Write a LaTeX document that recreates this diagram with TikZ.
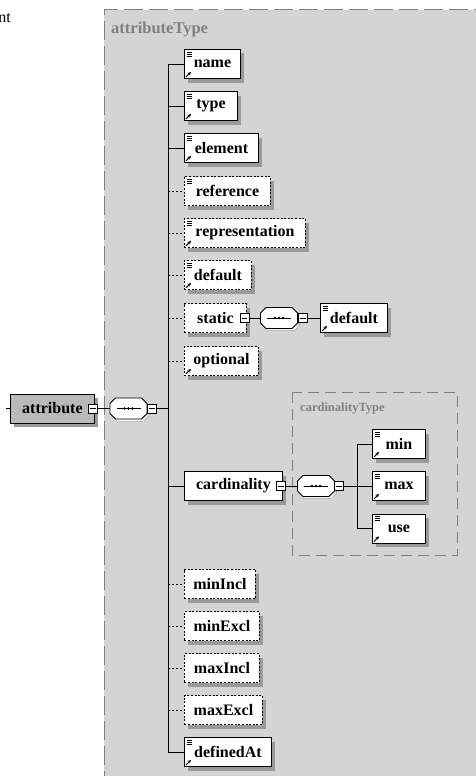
\documentclass[tikz,border=0pt]{standalone}
\usepackage{fontspec}
\setmainfont{Liberation Serif}
\usetikzlibrary{shadows,arrows.meta}

\definecolor{panel}{HTML}{D4D4D4}
\definecolor{frame}{HTML}{808080}
\definecolor{shade}{HTML}{9A9A9A}
\definecolor{rootfill}{HTML}{B9B9B9}

\tikzset{
  elem/.style={draw=black, fill=white, line width=0.9pt, minimum height=29pt,
    inner sep=0pt, anchor=west, font=\fontsize{16}{16}\selectfont\bfseries,
    drop shadow={shadow xshift=4pt, shadow yshift=-4pt, fill=shade, opacity=1}},
  optelem/.style={elem, dash pattern=on 2pt off 1.6pt},
  minus/.style={draw=black, fill=white, line width=0.7pt, minimum size=9pt, inner sep=0pt,
    path picture={\draw[line width=0.7pt] ([xshift=1.8pt]path picture bounding box.west)
      -- ([xshift=-1.8pt]path picture bounding box.east);}},
  seqbox/.style={rectangle, draw=none, minimum width=37pt, minimum height=21pt, inner sep=0pt},
  link/.style={line width=0.9pt},
  optlink/.style={line width=0.9pt, dash pattern=on 2pt off 2pt},
  typebox/.style={draw=frame, line width=1pt, dash pattern=on 19pt off 6pt},
  typelabel/.style={text=frame, anchor=west, inner sep=0pt, font=\fontsize{16.5}{16.5}\selectfont\bfseries},
}

% small "documentation" and "reference" marks in the corners of element boxes
\newcommand\xsdlines[1]{%
  \foreach \k in {0,2,4}
    {\draw[line width=0.7pt] ([shift={(2.5,3+\k)}]#1.north west) -- ++(5,0);}}
\newcommand\xsdarrow[1]{%
  \draw[line width=1pt,-{Stealth[length=3.5pt,width=3.5pt]}]
    ([shift={(2,-2)}]#1.south west) -- ++(5,-5);}
% octagon outline of a sequence compositor, around a named seqbox node
\newcommand\octpath[3]{%
  ([shift={(#2-18.5,#3-5)}]#1.center) -- ([shift={(#2-13,#3-10.5)}]#1.center)
  -- ([shift={(#2+13,#3-10.5)}]#1.center) -- ([shift={(#2+18.5,#3-5)}]#1.center)
  -- ([shift={(#2+18.5,#3+5)}]#1.center) -- ([shift={(#2+13,#3+10.5)}]#1.center)
  -- ([shift={(#2-13,#3+10.5)}]#1.center) -- ([shift={(#2-18.5,#3+5)}]#1.center) -- cycle}
\newcommand\seqmark[1]{%
  \fill[shade] \octpath{#1}{2}{2};
  \draw[line width=0.8pt, fill=white] \octpath{#1}{0}{0};
  \draw[line width=0.8pt] ([xshift=-12pt]#1.center) -- ([xshift=12pt]#1.center);
  \foreach \d in {-4,0,4} {\fill ([xshift=\d pt]#1.center) circle (1.4pt);}}

\begin{document}
\begin{tikzpicture}[x=1pt,y=-1pt]
\useasboundingbox (0,0) rectangle (475,776);
\fill[white] (0,0) rectangle (475,776);

% complex type panel
\fill[panel] (104,10) rectangle (490,790);
\draw[typebox] (104,790) -- (104,10) -- (490,10);
\node[typelabel] (attrtype) at (111,30) {attributeType};

\node[anchor=east, inner sep=0pt, font=\fontsize{16}{16}\selectfont] (cut) at (11,18) {nt};

% root element and its sequence
\node[elem, fill=rootfill, minimum width=84pt] (attribute) at (10,408.5) {attribute};
\coordinate (stub) at (6,408.5);
\node[minus] (m0) at ([xshift=-2pt]attribute.east) {};
\node[seqbox] (s0) at (128.5,408.5) {};
\seqmark{s0}
\node[minus] (m1) at (152,408.5) {};
\coordinate (spine) at (168,408.5);

% children of the sequence
\node[elem, minimum width=56pt] (name) at (184,64) {name};
\node[elem, minimum width=53pt] (type) at (184,106) {type};
\node[elem, minimum width=74pt] (element) at (184,148) {element};
\node[optelem, minimum width=86pt] (reference) at (184,191) {reference};
\node[optelem, minimum width=121pt] (representation) at (184,233) {representation};
\node[optelem, minimum width=67pt] (default) at (184,275) {default};
\node[optelem, minimum width=62pt] (static) at (184,318) {static};
\node[optelem, minimum width=74pt] (optional) at (184,361) {optional};
\node[elem, minimum width=98pt] (cardinality) at (184,486) {cardinality};
\node[optelem, minimum width=71pt] (minIncl) at (184,584) {minIncl};
\node[optelem, minimum width=75pt] (minExcl) at (184,626) {minExcl};
\node[optelem, minimum width=75pt] (maxIncl) at (184,668) {maxIncl};
\node[optelem, minimum width=78pt] (maxExcl) at (184,710) {maxExcl};
\node[elem, minimum width=87pt] (definedAt) at (184,752) {definedAt};

% static content
\node[minus] (ms) at ([xshift=-2.5pt]static.east) {};
\node[seqbox] (ss) at (279,318) {};
\seqmark{ss}
\node[minus] (ms2) at (303,318) {};
\node[elem, minimum width=67pt] (sdefault) at (320,318) {default};

% cardinality content
\draw[typebox, dash pattern=on 11pt off 6pt] (292,392) rectangle (457,555);
\node[typelabel, font=\fontsize{12.5}{12.5}\selectfont\bfseries] (cardtype) at (300,409) {cardinalityType};
\node[minus] (mc) at ([xshift=-2pt]cardinality.east) {};
\node[seqbox] (sc) at (316,486) {};
\seqmark{sc}
\node[minus] (mc2) at (339,486) {};
\coordinate (branch) at (357,486);
\node[elem, minimum width=53pt] (min) at (372,444) {min};
\node[elem, minimum width=53pt] (max) at (372,486) {max};
\node[elem, minimum width=53pt] (use) at (372,528.5) {use};

% corner marks
\foreach \n in {name,type,element,reference,representation,default,sdefault,min,max,use,definedAt}
  {\xsdlines{\n}}
\foreach \n in {name,type,element,representation,default,optional,sdefault,min,max,use,definedAt}
  {\xsdarrow{\n}}

% connectors
\draw[link] (stub) -- (attribute.west);
\draw[link] (m0.east) -- (s0.west);
\draw[link] (s0.east) -- (m1.west);
\draw[link] (m1.east) -- (spine);
\draw[link] (name.west -| spine) -- (definedAt.west -| spine);
\foreach \n in {name,type,element,cardinality,definedAt}
  {\draw[link] (\n.west -| spine) -- (\n.west);}
\foreach \n in {reference,representation,default,static,optional,minIncl,minExcl,maxIncl,maxExcl}
  {\draw[optlink] (\n.west -| spine) -- (\n.west);}

\draw[link] (ms.east) -- (ss.west);
\draw[link] (ss.east) -- (ms2.west);
\draw[link] (ms2.east) -- (sdefault.west);

\draw[link] (mc.east) -- (sc.west);
\draw[link] (sc.east) -- (mc2.west);
\draw[link] (mc2.east) -- (branch);
\draw[link] (min.west -| branch) -- (use.west -| branch);
\foreach \n in {min,max,use}
  {\draw[link] (\n.west -| branch) -- (\n.west);}
\end{tikzpicture}
\end{document}
